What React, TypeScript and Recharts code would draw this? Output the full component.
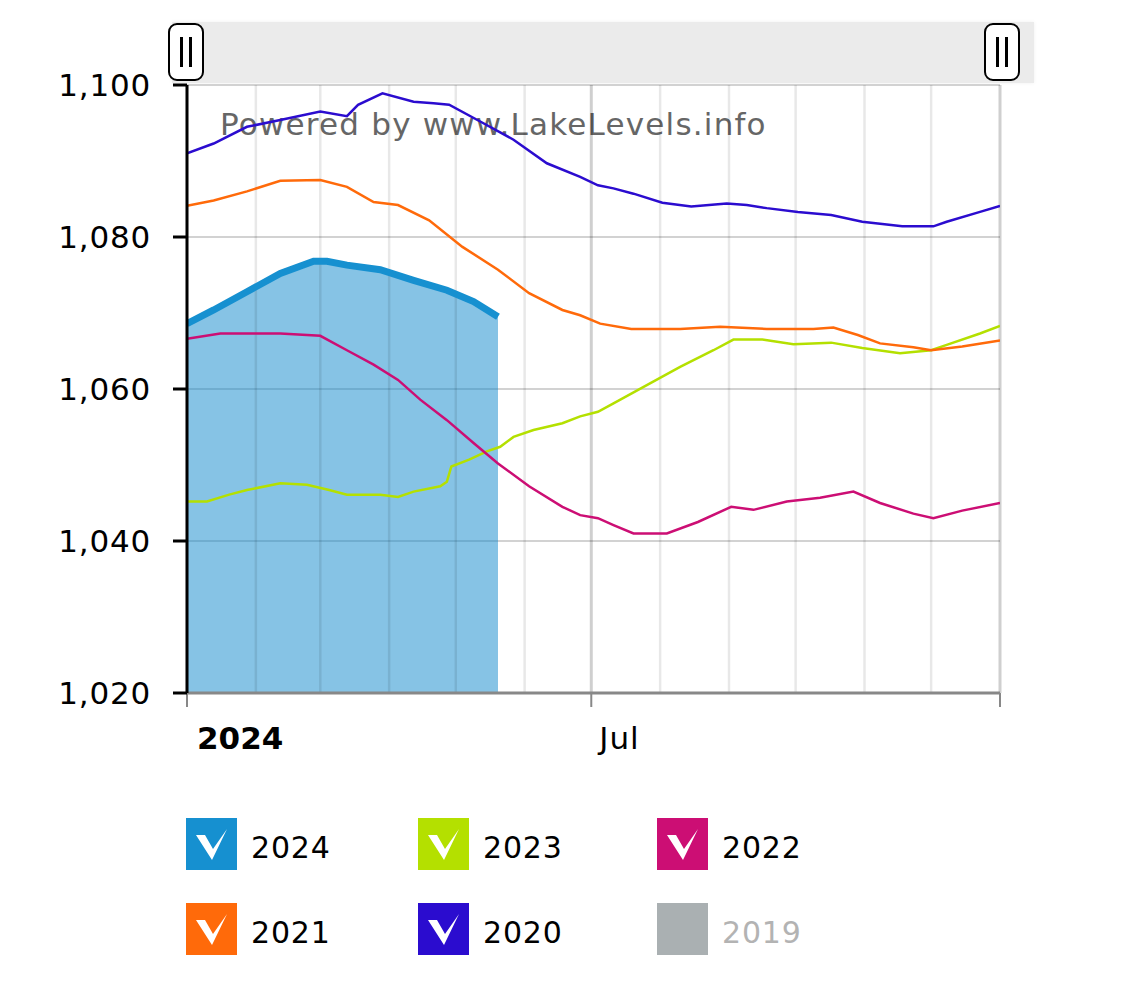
import React from "react";
import {
  ComposedChart,
  Line,
  Area,
  XAxis,
  YAxis,
  CartesianGrid,
  ReferenceLine,
} from "recharts";

// Day-of-year positions and lake levels (ft)
const days2024 = [0, 12, 27, 42, 57, 63, 72, 87, 102, 117, 129, 140];
const level2024 = [1068.6, 1070.4, 1072.8, 1075.2, 1076.8, 1076.8, 1076.3, 1075.7, 1074.3, 1073.0, 1071.5, 1069.5];

const days2023 = [0, 9, 19, 27, 42, 54, 64, 72, 87, 95, 102, 114, 117, 119, 127, 135, 141, 147, 156, 169, 177, 185, 192, 207, 222, 237, 246, 259, 273, 290, 304, 321, 335, 342, 357, 366];
const level2023 = [1045.2, 1045.2, 1046.1, 1046.7, 1047.6, 1047.4, 1046.7, 1046.1, 1046.1, 1045.8, 1046.5, 1047.2, 1047.8, 1049.8, 1050.7, 1051.8, 1052.4, 1053.7, 1054.6, 1055.5, 1056.4, 1057.0, 1058.1, 1060.5, 1062.9, 1065.1, 1066.5, 1066.5, 1065.9, 1066.1, 1065.4, 1064.7, 1065.1, 1065.8, 1067.3, 1068.3];

const days2022 = [0, 15, 33, 42, 60, 72, 84, 95, 105, 117, 129, 140, 154, 169, 177, 185, 192, 201, 216, 230, 245, 255, 270, 285, 300, 312, 327, 336, 349, 366];
const level2022 = [1066.6, 1067.3, 1067.3, 1067.3, 1067.0, 1065.1, 1063.2, 1061.2, 1058.6, 1055.9, 1052.9, 1050.2, 1047.2, 1044.5, 1043.4, 1043.0, 1042.1, 1041.0, 1041.0, 1042.5, 1044.5, 1044.1, 1045.2, 1045.7, 1046.5, 1045.0, 1043.6, 1043.0, 1044.0, 1045.0];

const days2021 = [0, 12, 27, 42, 60, 72, 84, 95, 109, 124, 140, 154, 169, 177, 186, 200, 222, 240, 261, 282, 291, 302, 312, 327, 335, 349, 366];
const level2021 = [1084.1, 1084.8, 1086.0, 1087.4, 1087.5, 1086.6, 1084.6, 1084.2, 1082.2, 1078.7, 1075.7, 1072.6, 1070.4, 1069.7, 1068.6, 1067.9, 1067.9, 1068.2, 1067.9, 1067.9, 1068.1, 1067.1, 1066.0, 1065.5, 1065.1, 1065.6, 1066.4];

const days2020 = [0, 12, 27, 42, 60, 72, 77, 88, 102, 111, 118, 132, 147, 162, 177, 185, 192, 201, 214, 227, 243, 252, 261, 275, 290, 304, 322, 336, 342, 357, 366];
const level2020 = [1091.0, 1092.3, 1094.5, 1095.4, 1096.5, 1095.9, 1097.4, 1098.9, 1097.8, 1097.6, 1097.4, 1095.2, 1092.8, 1089.7, 1087.9, 1086.8, 1086.4, 1085.7, 1084.5, 1084.0, 1084.4, 1084.2, 1083.8, 1083.3, 1082.9, 1082.0, 1081.4, 1081.4, 1082.0, 1083.3, 1084.1];

const monthStarts = [0, 31, 60, 91, 121, 152, 182, 213, 244, 274, 305, 335, 366];
const xTicks = [0, 182, 366];
const xTickLabels: Record<number, string> = { 0: "2024", 182: "Jul", 366: "" };
const yTicks = [1020, 1040, 1060, 1080, 1100];

const legendYears = ["2024", "2023", "2022", "2021", "2020", "2019"];
const legendColors = ["#1690d0", "#b4e000", "#cc0e74", "#ff6a0a", "#2b0ccf", "#aab0b2"];
const legendActive = [true, true, true, true, true, false];

const toRows = (d: number[], v: number[]) => d.map((day, i) => ({ day, level: v[i] }));

const data2024 = toRows(days2024, level2024);
const data2023 = toRows(days2023, level2023);
const data2022 = toRows(days2022, level2022);
const data2021 = toRows(days2021, level2021);
const data2020 = toRows(days2020, level2020);

const FONT = "'DejaVu Sans', Verdana, sans-serif";

const XTick = (props: any) => {
  const { x, y, payload } = props;
  const label = xTickLabels[payload.value] ?? "";
  if (!label) return null;
  const bold = payload.value === 0;
  return (
    <text
      x={x + (bold ? 10 : 8)}
      y={y + 40}
      fontFamily={FONT}
      fontSize={31}
      fontWeight={bold ? "bold" : "normal"}
      fill="#000"
      textAnchor="start"
      letterSpacing={bold ? 0 : 1}
    >
      {label}
    </text>
  );
};

const Handle = ({ left }: { left: number }) => (
  <div
    style={{
      position: "absolute",
      left,
      top: 15,
      width: 32,
      height: 54,
      border: "2px solid #000",
      borderRadius: 9,
      background: "#fff",
      boxSizing: "content-box",
    }}
  >
    <div style={{ position: "absolute", left: 10, top: 12, width: 3, height: 30, background: "#000" }} />
    <div style={{ position: "absolute", left: 19, top: 12, width: 3, height: 30, background: "#000" }} />
  </div>
);

const Check = () => (
  <svg width={51} height={52} style={{ position: "absolute", left: 0, top: 0 }}>
    <polygon points="10,17 19,17 27,31 41,11 26,42" fill="#fff" />
  </svg>
);

export default function App() {
  return (
    <div style={{ position: "relative", width: 1109, height: 980, fontFamily: FONT }}>
      {/* range slider */}
      <div
        style={{
          position: "absolute",
          left: 164,
          top: 14,
          width: 862,
          height: 61,
          background: "#ebebeb",
          boxShadow: "0 0 4px #f0f0f0",
        }}
      />
      {/* watermark */}
      <div
        style={{
          position: "absolute",
          left: 212,
          top: 98,
          fontSize: 31,
          letterSpacing: 1.2,
          color: "#666",
          whiteSpace: "nowrap",
          lineHeight: "36px",
        }}
      >
        Powered by www.LakeLevels.info
      </div>
      <ComposedChart
        width={1040}
        height={780}
        margin={{ top: 77, right: 48, left: 0, bottom: 35 }}
        style={{ position: "absolute", left: 0, top: 0 }}
      >
        <CartesianGrid vertical={false} stroke="#d2d2d2" strokeWidth={2} />
        {monthStarts.map((m) => (
          <ReferenceLine
            key={m}
            x={m}
            stroke="#000"
            strokeOpacity={m === 182 || m === 366 ? 0.19 : 0.09}
            strokeWidth={m === 182 || m === 366 ? 3 : 2.5}
            ifOverflow="extendDomain"
          />
        ))}
        <XAxis
          type="number"
          dataKey="day"
          domain={[0, 366]}
          ticks={xTicks}
          interval={0}
          allowDataOverflow
          height={60}
          axisLine={{ stroke: "#888", strokeWidth: 3 }}
          tickLine={{ stroke: "#888", strokeWidth: 2 }}
          tickSize={14}
          tick={<XTick />}
        />
        <YAxis
          type="number"
          domain={[1020, 1100]}
          ticks={yTicks}
          interval={0}
          allowDataOverflow
          width={179}
          axisLine={{ stroke: "#000", strokeWidth: 3 }}
          tickLine={{ stroke: "#000", strokeWidth: 3 }}
          tickSize={14}
          tickMargin={22}
          tick={{ fontSize: 31, fill: "#000", fontFamily: FONT, letterSpacing: 0.8 }}
          tickFormatter={(v: number) => v.toLocaleString("en-US")}
        />
        <Area
          data={data2024}
          dataKey="level"
          type="linear"
          baseValue="dataMin"
          fill="#0e88cc"
          fillOpacity={0.5}
          stroke="none"
          isAnimationActive={false}
        />
        <Line data={data2023} dataKey="level" type="linear" stroke="#b4e000" strokeWidth={2.5} dot={false} isAnimationActive={false} />
        <Line data={data2022} dataKey="level" type="linear" stroke="#cc0e74" strokeWidth={2.5} dot={false} isAnimationActive={false} />
        <Line data={data2021} dataKey="level" type="linear" stroke="#ff6a0a" strokeWidth={2.5} dot={false} isAnimationActive={false} />
        <Line data={data2020} dataKey="level" type="linear" stroke="#2b0ccf" strokeWidth={2.5} dot={false} isAnimationActive={false} />
        <Line data={data2024} dataKey="level" type="linear" stroke="#1690d0" strokeWidth={7} dot={false} isAnimationActive={false} />
      </ComposedChart>
      <Handle left={160} />
      <Handle left={976} />
      {/* legend */}
      {legendYears.map((yr, i) => {
        const col = i % 3;
        const row = Math.floor(i / 3);
        const left = [178, 410, 649][col];
        const top = [810, 895][row];
        return (
          <div key={yr} style={{ position: "absolute", left, top, height: 52 }}>
            <div style={{ position: "absolute", left: 0, top: 0, width: 51, height: 52, background: legendColors[i] }}>
              {legendActive[i] && <Check />}
            </div>
            <div
              style={{
                position: "absolute",
                left: 65,
                top: 12,
                fontSize: 30,
                lineHeight: "36px",
                letterSpacing: 0.8,
                color: legendActive[i] ? "#000" : "#b3b3b3",
              }}
            >
              {yr}
            </div>
          </div>
        );
      })}
    </div>
  );
}
